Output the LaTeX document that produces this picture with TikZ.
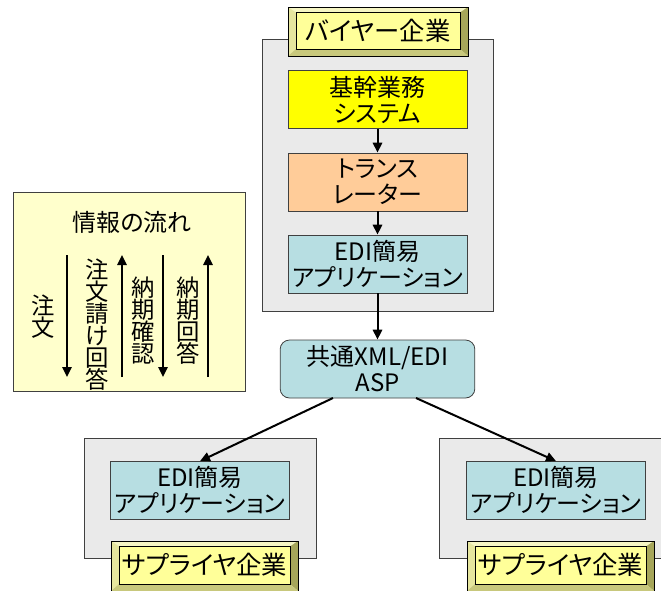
\documentclass[tikz,border=0pt]{standalone}
\usepackage{fontspec}
\setmainfont{Noto Sans CJK JP}[RawFeature=+palt]
\usetikzlibrary{arrows.meta,calc}
\definecolor{grayfill}{HTML}{EAEAEA}
\definecolor{cyanfill}{HTML}{B7DEE2}
\definecolor{orangefill}{HTML}{FFCC99}
\definecolor{yelfill}{HTML}{FFFF00}
\definecolor{legfill}{HTML}{FFFFCC}
\definecolor{bvin}{HTML}{FFFF99}
\definecolor{bvtop}{HTML}{F6F6C4}
\definecolor{bvleft}{HTML}{E6E69E}
\definecolor{bvright}{HTML}{A6A65A}
\definecolor{bvbot}{HTML}{C8C87C}
\definecolor{edge}{HTML}{404040}
\tikzset{
  txt/.style={font=\fontsize{18}{19.5}\selectfont, align=center, inner sep=0pt},
  lbltxt/.style={font=\fontsize{19}{19}\selectfont, align=center, inner sep=0pt},
  vtxt/.style={font=\fontsize{17.5}{16.5}\selectfont, align=center, inner sep=0pt},
  graybox/.style={draw=edge, line width=0.6pt, fill=grayfill},
  procbox/.style={draw=edge, line width=0.6pt, minimum width=134.25pt, minimum height=43.5pt, txt},
  flow/.style={line width=1.5pt, -{Triangle[length=7.5pt,width=7pt]}},
}
\newcommand\mybevel[6]{%
  \pgfmathsetmacro\bxa{#2+8}\pgfmathsetmacro\bya{#3+5.5}%
  \pgfmathsetmacro\bxb{#4-8}\pgfmathsetmacro\byb{#5-7}%
  \pgfmathsetmacro\bw{(\bxb-\bxa)*0.75}\pgfmathsetmacro\bh{(\byb-\bya)*0.75}%
  \pgfmathsetmacro\bcx{(#2+#4)/2}\pgfmathsetmacro\bcy{(\bya+\byb)/2}%
  \fill[bvtop] (#2,#3) -- (#4,#3) -- (\bxb,\bya) -- (\bxa,\bya) -- cycle;
  \fill[bvleft] (#2,#3) -- (\bxa,\bya) -- (\bxa,\byb) -- (#2,#5) -- cycle;
  \fill[bvright] (#4,#3) -- (#4,#5) -- (\bxb,\byb) -- (\bxb,\bya) -- cycle;
  \fill[bvbot] (#2,#5) -- (\bxa,\byb) -- (\bxb,\byb) -- (#4,#5) -- cycle;
  \draw[line width=0.6pt] (#2,#3) rectangle (#4,#5);
  \node[draw, line width=0.6pt, fill=bvin, minimum width=\bw pt, minimum height=\bh pt, lbltxt] (#1) at (\bcx,\bcy) {#6};
}
\begin{document}
\begin{tikzpicture}[x=0.75pt,y=-0.75pt]
\useasboundingbox (0,0) rectangle (661,590);
\clip (0,0) rectangle (661,590);
\fill[white] (0,0) rectangle (661,590);
% buyer
\draw[graybox] (262,39) rectangle (493,311);
\mybevel{buyer}{288}{7}{468}{56}{バイヤー企業}
\node[procbox, fill=yelfill] (core) at (377.5,99.5) {基幹業務\\システム};
\node[procbox, fill=orangefill] (trans) at (377.5,182) {トランス\\レーター};
\node[procbox, fill=cyanfill] (edib) at (377.5,264) {EDI簡易\\アプリケーション};
\node[draw=edge, line width=0.6pt, fill=cyanfill, rounded corners=7pt, minimum width=146pt, minimum height=43.5pt, txt] (asp) at (377.5,369) {共通XML/EDI\\ASP};
\draw[flow] (core) -- (trans);
\draw[flow] (trans) -- (edib);
\draw[flow] (edib) -- (asp);
% suppliers
\draw[graybox] (84,438) rectangle (316,558);
\draw[graybox] (439,438) rectangle (680,558);
\node[procbox, fill=cyanfill] (edil) at (200,490.5) {EDI簡易\\アプリケーション};
\node[procbox, fill=cyanfill] (edir) at (556,490.5) {EDI簡易\\アプリケーション};
\mybevel{supl}{111}{541}{298}{591}{サプライヤ企業}
\mybevel{supr}{467}{541}{654}{591}{サプライヤ企業}
\coordinate (aspl) at (333,398);
\coordinate (aspr) at (416,398);
\draw[flow] (aspl) -- (edil.north);
\draw[flow] (aspr) -- (edir.north);
% legend
\node[draw=edge, line width=0.6pt, fill=legfill, minimum width=174pt, minimum height=149.25pt] (legend) at (129,291.5) {};
\node[txt] (ltitle) at (132,222) {情報の流れ};
\node[vtxt] (l1) at (43,317) {注\\文};
\node[vtxt] (l2) at (97,325) {注\\文\\請\\け\\回\\答};
\node[vtxt] (l3) at (143,321) {納\\期\\確\\認};
\node[vtxt] (l4) at (188,321) {納\\期\\回\\答};
\coordinate (a1s) at (67,255); \coordinate (a1e) at (67,377);
\coordinate (a2s) at (122,377); \coordinate (a2e) at (122,255);
\coordinate (a3s) at (163,255); \coordinate (a3e) at (163,377);
\coordinate (a4s) at (208,377); \coordinate (a4e) at (208,255);
\draw[flow] (a1s) -- (a1e);
\draw[flow] (a2s) -- (a2e);
\draw[flow] (a3s) -- (a3e);
\draw[flow] (a4s) -- (a4e);
\end{tikzpicture}
\end{document}
